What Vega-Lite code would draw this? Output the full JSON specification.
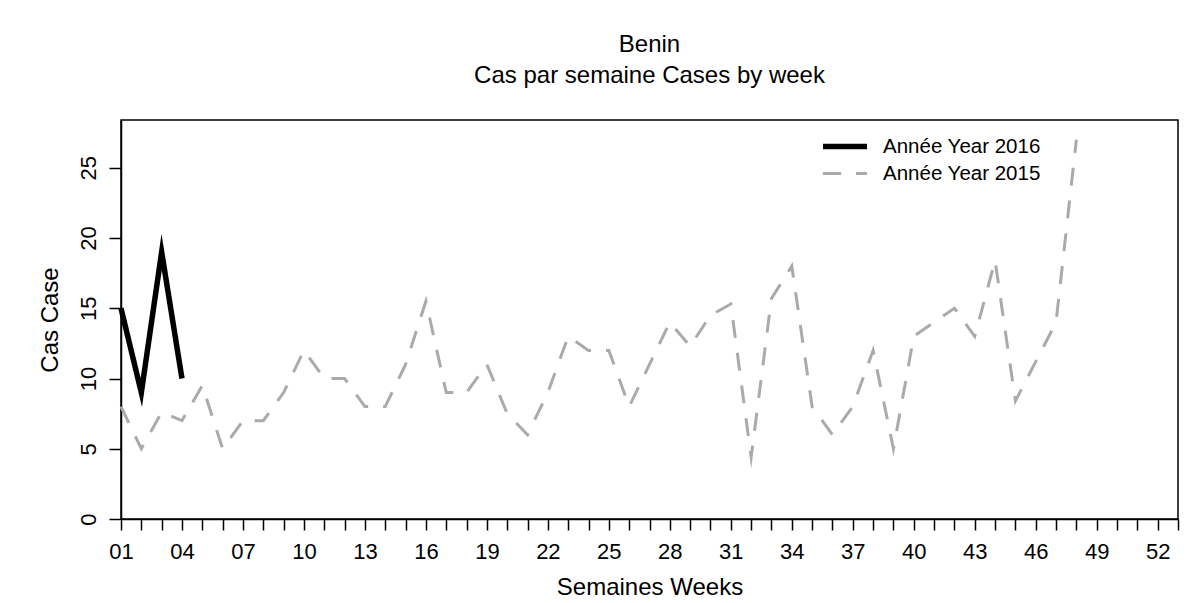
{
  "$schema": "https://vega.github.io/schema/vega-lite/v6.json",
  "autosize": "none",
  "width": 1057,
  "height": 399,
  "padding": {"left": 121, "top": 120, "right": 25, "bottom": 84},
  "background": "white",
  "title": {
    "text": "Benin",
    "subtitle": "Cas par semaine Cases by week",
    "anchor": "middle",
    "font": "Liberation Sans",
    "fontSize": 24,
    "fontWeight": "normal",
    "color": "#000000",
    "subtitleFont": "Liberation Sans",
    "subtitleFontSize": 24,
    "subtitleColor": "#000000",
    "subtitlePadding": 7,
    "offset": 32
  },
  "data": {
    "values": [
      {"week": 1, "cases": 8, "series": "Année Year 2015"},
      {"week": 2, "cases": 5, "series": "Année Year 2015"},
      {"week": 3, "cases": 7.6, "series": "Année Year 2015"},
      {"week": 4, "cases": 7, "series": "Année Year 2015"},
      {"week": 5, "cases": 9.5, "series": "Année Year 2015"},
      {"week": 6, "cases": 5, "series": "Année Year 2015"},
      {"week": 7, "cases": 7, "series": "Année Year 2015"},
      {"week": 8, "cases": 7, "series": "Année Year 2015"},
      {"week": 9, "cases": 9, "series": "Année Year 2015"},
      {"week": 10, "cases": 12, "series": "Année Year 2015"},
      {"week": 11, "cases": 10, "series": "Année Year 2015"},
      {"week": 12, "cases": 10, "series": "Année Year 2015"},
      {"week": 13, "cases": 8, "series": "Année Year 2015"},
      {"week": 14, "cases": 8, "series": "Année Year 2015"},
      {"week": 15, "cases": 11, "series": "Année Year 2015"},
      {"week": 16, "cases": 15.5, "series": "Année Year 2015"},
      {"week": 17, "cases": 9, "series": "Année Year 2015"},
      {"week": 18, "cases": 9, "series": "Année Year 2015"},
      {"week": 19, "cases": 11, "series": "Année Year 2015"},
      {"week": 20, "cases": 7.5, "series": "Année Year 2015"},
      {"week": 21, "cases": 6, "series": "Année Year 2015"},
      {"week": 22, "cases": 9, "series": "Année Year 2015"},
      {"week": 23, "cases": 13, "series": "Année Year 2015"},
      {"week": 24, "cases": 12, "series": "Année Year 2015"},
      {"week": 25, "cases": 12, "series": "Année Year 2015"},
      {"week": 26, "cases": 8, "series": "Année Year 2015"},
      {"week": 27, "cases": 11, "series": "Année Year 2015"},
      {"week": 28, "cases": 14, "series": "Année Year 2015"},
      {"week": 29, "cases": 12.3, "series": "Année Year 2015"},
      {"week": 30, "cases": 14.5, "series": "Année Year 2015"},
      {"week": 31, "cases": 15.3, "series": "Année Year 2015"},
      {"week": 32, "cases": 4.4, "series": "Année Year 2015"},
      {"week": 33, "cases": 15.7, "series": "Année Year 2015"},
      {"week": 34, "cases": 18, "series": "Année Year 2015"},
      {"week": 35, "cases": 8, "series": "Année Year 2015"},
      {"week": 36, "cases": 6, "series": "Année Year 2015"},
      {"week": 37, "cases": 8, "series": "Année Year 2015"},
      {"week": 38, "cases": 12, "series": "Année Year 2015"},
      {"week": 39, "cases": 5, "series": "Année Year 2015"},
      {"week": 40, "cases": 13, "series": "Année Year 2015"},
      {"week": 41, "cases": 14, "series": "Année Year 2015"},
      {"week": 42, "cases": 15, "series": "Année Year 2015"},
      {"week": 43, "cases": 13, "series": "Année Year 2015"},
      {"week": 44, "cases": 18.4, "series": "Année Year 2015"},
      {"week": 45, "cases": 8.4, "series": "Année Year 2015"},
      {"week": 46, "cases": 11.2, "series": "Année Year 2015"},
      {"week": 47, "cases": 14, "series": "Année Year 2015"},
      {"week": 48, "cases": 27, "series": "Année Year 2015"},
      {"week": 1, "cases": 15, "series": "Année Year 2016"},
      {"week": 2, "cases": 9, "series": "Année Year 2016"},
      {"week": 3, "cases": 19, "series": "Année Year 2016"},
      {"week": 4, "cases": 10, "series": "Année Year 2016"}
    ]
  },
  "mark": {"type": "line", "strokeJoin": "miter", "strokeMiterLimit": 10, "strokeCap": "butt"},
  "encoding": {
    "x": {
      "field": "week",
      "type": "quantitative",
      "scale": {"domain": [1, 53], "nice": false, "zero": false},
      "axis": {
        "values": [1,2,3,4,5,6,7,8,9,10,11,12,13,14,15,16,17,18,19,20,21,22,23,24,25,26,27,28,29,30,31,32,33,34,35,36,37,38,39,40,41,42,43,44,45,46,47,48,49,50,51,52,53],
        "labelExpr": "(datum.value - 1) % 3 == 0 && datum.value <= 52 ? (datum.value < 10 ? '0' + datum.value : '' + datum.value) : ''",
        "labelOverlap": false,
        "labelFlush": false,
        "title": "Semaines Weeks",
        "tickSize": 11,
        "labelPadding": 11,
        "titlePadding": 13,
        "grid": false
      }
    },
    "y": {
      "field": "cases",
      "type": "quantitative",
      "scale": {"domain": [0, 28.4], "nice": false, "zero": true},
      "axis": {
        "values": [0, 5, 10, 15, 20, 25],
        "title": "Cas Case",
        "labelAngle": -90,
        "labelAlign": "center",
        "labelBaseline": "bottom",
        "tickSize": 12,
        "labelPadding": 9,
        "titlePadding": 15,
        "grid": false
      }
    },
    "color": {
      "field": "series",
      "type": "nominal",
      "scale": {"domain": ["Année Year 2016", "Année Year 2015"], "range": ["#000000", "#aaaaaa"]},
      "legend": {"title": null}
    },
    "strokeDash": {
      "field": "series",
      "type": "nominal",
      "scale": {"domain": ["Année Year 2016", "Année Year 2015"], "range": [[1, 0], [18, 15]]},
      "legend": {"title": null}
    },
    "strokeWidth": {
      "field": "series",
      "type": "nominal",
      "scale": {"domain": ["Année Year 2016", "Année Year 2015"], "range": [5.5, 3]},
      "legend": {"title": null}
    }
  },
  "config": {
    "font": "Liberation Sans",
    "view": {"stroke": "#000000", "strokeWidth": 1.5},
    "axis": {
      "domainColor": "#000000",
      "domainWidth": 1.5,
      "tickColor": "#000000",
      "tickWidth": 1.5,
      "labelColor": "#000000",
      "labelFont": "Liberation Sans",
      "labelFontSize": 22,
      "titleColor": "#000000",
      "titleFont": "Liberation Sans",
      "titleFontSize": 24,
      "titleFontWeight": "normal"
    },
    "legend": {
      "orient": "none",
      "legendX": 699,
      "legendY": 13,
      "symbolType": "stroke",
      "symbolSize": 1936,
      "clipHeight": 27,
      "labelFont": "Liberation Sans",
      "labelFontSize": 20.5,
      "labelColor": "#000000",
      "labelOffset": 13,
      "rowPadding": 0,
      "padding": 0
    }
  }
}
